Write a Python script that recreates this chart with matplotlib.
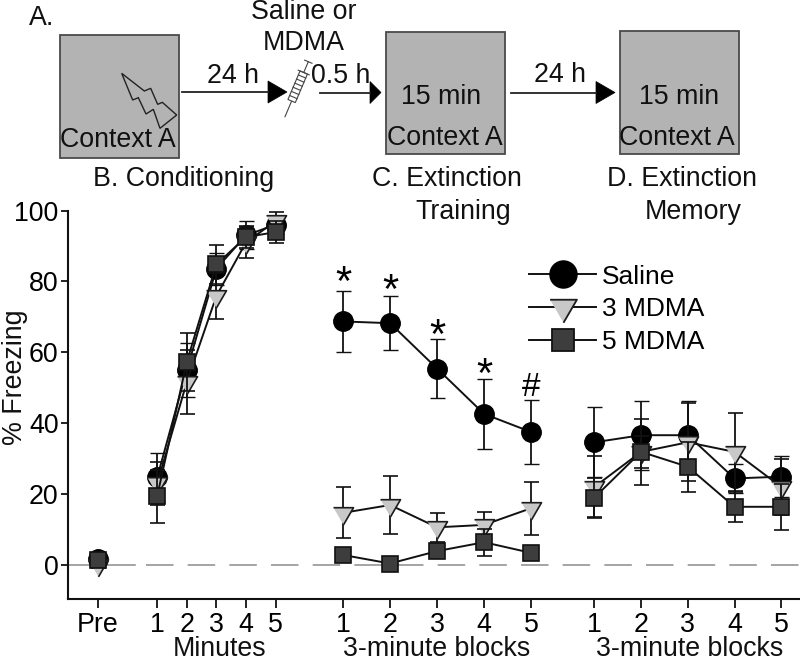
import matplotlib
matplotlib.use("Agg")
import matplotlib.pyplot as plt
from matplotlib.lines import Line2D
from matplotlib.patches import Rectangle, Polygon
import numpy as np

plt.rcParams['font.family'] = ['Liberation Sans', 'DejaVu Sans']
plt.rcParams['lines.scale_dashes'] = False

fs = 19.3

# values, order: Pre | minutes 1-5 | blocks 1-5 | blocks 1-5
saline = [1.6, 24.7, 55.0, 83.6, 93.0, 96.0,
          68.7, 68.2, 55.4, 42.6, 37.5,
          34.6, 36.6, 36.6, 24.4, 24.9]
saline_err = [0.8, 7.0, 7.5, 4.5, 3.9, 2.5,
              8.5, 7.6, 8.3, 9.9, 9.0,
              9.9, 9.7, 9.7, 4.0, 5.8]
mdma3 = [0.0, 23.0, 51.6, 75.9, 91.0, 97.0,
         14.7, 16.9, 10.6, 11.3, 16.0,
         22.0, 31.9, 34.6, 31.9, 22.0]
mdma3_err = [0.8, 6.0, 9.0, 6.6, 4.3, 2.6,
             7.2, 8.3, 4.0, 3.6, 7.5,
             8.7, 9.4, 11.0, 11.0, 8.0]
mdma5 = [1.4, 19.4, 57.3, 84.8, 92.5, 93.9,
         2.8, 0.4, 3.9, 6.4, 3.4,
         19.0, 31.9, 27.7, 16.4, 16.4]
mdma5_err = [0.8, 7.5, 8.1, 5.4, 3.0, 3.0,
             2.0, 0.5, 2.0, 3.8, 1.5,
             5.4, 4.5, 7.1, 4.2, 6.5]

tick_labels = ['Pre', '1', '2', '3', '4', '5', '1', '2', '3', '4', '5', '1', '2', '3', '4', '5']
y_ticks = [0, 20, 40, 60, 80, 100]
group_names = ['Minutes', '3-minute blocks', '3-minute blocks']
sig_marks = ['*', '*', '*', '*', '#']

# x layout of the three groups
x = np.concatenate([[0], 2 + np.arange(5), 8.28 + 1.588 * np.arange(5), 16.77 + 1.578 * np.arange(5)])
segs = [(0, 1), (1, 6), (6, 11), (11, 16)]

# triangle pointing down with its centroid on the data point
tri = [(-1, 0.58), (1, 0.58), (0, -1.14)]

fig = plt.figure(figsize=(8, 6.62), dpi=100)
W, H = 800.0, 662.0
ax = fig.add_axes([67.7 / W, 1 - 599.3 / H, (W - 67.7) / W, (599.3 - 210.5) / H])
ax.set_xlim(-(98 - 67.7) / 29.6, (W - 98) / 29.6)
ax.set_ylim(-9.7, 100)
ax.patch.set_alpha(0)

for s in ['top', 'right']:
    ax.spines[s].set_visible(False)
for s in ['left', 'bottom']:
    ax.spines[s].set_linewidth(1.5)
    ax.spines[s].set_color('#111111')

# zero line, long piece first then dashes
ax.plot([ax.get_xlim()[0], 1.25], [0, 0], color='#8c8c8c', lw=1.1, zorder=1)
ax.plot([1.62, ax.get_xlim()[1]], [0, 0], color='#8c8c8c', lw=1.1, ls=(0, (19.8, 10.2)), zorder=1)

styles = [
    (saline, saline_err, dict(marker='o', ms=14.0, mfc='black', mec='black', mew=1.0), 3),
    (mdma3, mdma3_err, dict(marker=tri, ms=16.4, mfc='#c8c8c8', mec='#1c1c1c', mew=1.2), 4),
    (mdma5, mdma5_err, dict(marker='s', ms=12.0, mfc='#3d3d3d', mec='#111111', mew=1.2), 5),
]
for vals, errs, st, z in styles:
    for a, b in segs:
        ax.errorbar(x[a:b], vals[a:b], yerr=errs[a:b], color='#111111', lw=1.4, elinewidth=1.3,
                    capsize=5.4, capthick=1.4, zorder=z, clip_on=False, **st)

# significance marks over saline blocks
offs = [2.0, 1.2, 0.6, 0.9, 3.7]
for i, m in enumerate(sig_marks):
    tp = saline[6 + i] + saline_err[6 + i]
    ax.text(x[6 + i], tp + offs[i], m, ha='center', va='center', fontsize=30 if m == '*' else 24,
            color='black', zorder=6)

ax.set_xticks(x)
ax.set_xticklabels(tick_labels)
ax.set_yticks(y_ticks)
ax.tick_params(axis='x', length=6.5, width=1.3, labelsize=fs, pad=2.5, color='#111111')
ax.tick_params(axis='y', length=5, width=1.3, labelsize=fs, pad=1.5, color='#111111')

handles = [
    Line2D([], [], color='#111111', lw=1.4, marker='o', ms=19.5, mfc='black', mec='black'),
    Line2D([], [], color='#111111', lw=1.4, marker=tri, ms=22, mfc='#c8c8c8', mec='#1c1c1c', mew=1.3),
    Line2D([], [], color='#111111', lw=1.4, marker='s', ms=16.5, mfc='#3d3d3d', mec='#111111', mew=1.3),
]
ax.legend(handles, ['Saline', '3 MDMA', '5 MDMA'], frameon=False, fontsize=19, handlelength=2.55,
          handletextpad=0.2, labelspacing=0.33, borderpad=0, borderaxespad=0, numpoints=1,
          loc='upper left', bbox_to_anchor=((529 - 67.7) / (W - 67.7), (599.3 - 264.5) / (599.3 - 210.5)))

# schematic on top, in picture pixels
top = fig.add_axes([0, 0, 1, 1])
top.set_xlim(0, W)
top.set_ylim(H, 0)
top.axis('off')
top.patch.set_alpha(0)

for bx, by, bw, bh in [(60, 35, 119, 123), (386, 32, 119, 122), (619.5, 30.5, 119.5, 123)]:
    top.add_patch(Rectangle((bx, by), bw, bh, fc='#b3b3b3', ec='#4a4a4a', lw=1.3))

texts = [
    ('A.', 42, 18), ('Saline or', 304, 12), ('MDMA', 304, 43), ('24 h', 233, 76), ('0.5 h', 341, 76),
    ('24 h', 560, 75), ('15 min', 441, 97), ('15 min', 679.5, 97),
    ('Context A', 118, 140), ('Context A', 445, 138), ('Context A', 677, 138),
    ('B. Conditioning', 184, 179), ('C. Extinction', 447, 179), ('Training', 463, 212),
    ('D. Extinction', 682, 179), ('Memory', 693, 212),
]
for t, tx, ty in texts:
    top.text(tx, ty, t, ha='center', va='center', fontsize=fs, color='#111111')

top.text(15, 377, '% Freezing', ha='center', va='center', rotation=90, fontsize=fs, color='#111111')

# group names under the ticks
for name, tx in zip(group_names, [220, 437, 690]):
    top.text(tx, 649, name, ha='center', va='center', fontsize=fs, color='#111111')

# arrows
for x0, x1, tip, yy in [(182, 268, 287, 92), (320, 370, 381, 92.5), (511, 596, 615, 92.5)]:
    top.plot([x0, x1], [yy, yy], color='#222222', lw=1.3)
    top.add_patch(Polygon([(x1, yy - 11), (tip, yy), (x1, yy + 11)], fc='black', ec='black', lw=0.5))

# lightning bolt
bolt = np.array([(35, 40), (103, 93), (122, 85), (143, 133), (157, 127), (200, 165), (150, 205),
                 (130, 148), (108, 162), (85, 113), (68, 120)], dtype=float)
top.add_patch(Polygon(bolt / 3 + [110, 60], fc='none', ec='#222222', lw=1.0))

# syringe
p0 = np.array([285.0, 116.7])
p1 = np.array([308.3, 61.7])
d = (p1 - p0) / np.linalg.norm(p1 - p0)
n = np.array([-d[1], d[0]])
top.plot(*zip(p0, p1), color='#444444', lw=0.8)
b0, b1 = p0 + d * 17, p0 + d * 48
hw = 4.0
top.add_patch(Polygon([b0 + n * hw, b1 + n * hw, b1 - n * hw, b0 - n * hw], fc='white', ec='#444444', lw=0.8, zorder=3))
for k in np.linspace(0.14, 0.86, 6):
    c = b0 + (b1 - b0) * k
    top.plot(*zip(c - n * hw, c + n * hw), color='#444444', lw=0.8, zorder=4)
top.plot(*zip(b1 - n * 6, b1 + n * 6), color='#444444', lw=0.8, zorder=4)
top.plot(*zip(p1 - n * 4, p1 + n * 4), color='#444444', lw=0.8, zorder=4)

fig.savefig('out.png', dpi=100)
